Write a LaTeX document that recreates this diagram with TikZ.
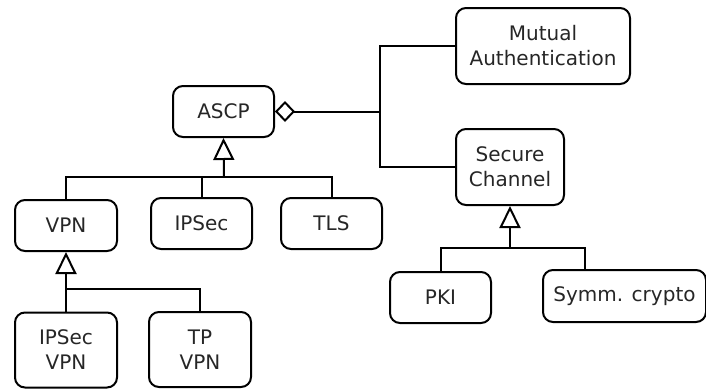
\documentclass[tikz,border=0pt]{standalone}
\usepackage{fontspec}
\setmainfont{DejaVu Sans}
\usetikzlibrary{arrows.meta}
\begin{document}
\begin{tikzpicture}[x=1pt,y=-1pt,
  box/.style={draw, line width=2pt, rounded corners=10pt, inner sep=0pt, align=center,
    text=black!85, font=\fontsize{20}{25}\selectfont},
  conn/.style={draw, line width=2pt},
  gen/.style={conn, -{Triangle[open, length=22pt, width=21pt]}},
  agg/.style={conn, {Diamond[open, length=20pt, width=21pt]}-}]
\useasboundingbox (0,0) rectangle (706,388);
% nodes
\node[box, minimum width=101pt, minimum height=51pt] (ascp) at (223.5,111.5) {ASCP};
\node[box, minimum width=174pt, minimum height=76pt] (mutual) at (543,46) {Mutual\\Authentication};
\node[box, minimum width=108pt, minimum height=76pt] (secure) at (510,167) {Secure\\Channel};
\node[box, minimum width=102pt, minimum height=51pt] (vpn) at (66,225.5) {VPN};
\node[box, minimum width=101pt, minimum height=51pt] (ipsec) at (201.5,223.5) {IPSec};
\node[box, minimum width=101pt, minimum height=51pt] (tls) at (331.5,223.5) {TLS};
\node[box, minimum width=102pt, minimum height=75pt] (ipsecvpn) at (66,350) {IPSec\\VPN};
\node[box, minimum width=102pt, minimum height=75pt] (tpvpn) at (200,349.5) {TP\\VPN};
\node[box, minimum width=101pt, minimum height=51pt] (pki) at (440.5,297.5) {PKI};
\node[box, minimum width=163pt, minimum height=52pt] (symm) at (624.5,296) {Symm. crypto};
% junctions
\coordinate (j1) at (380,112);
\coordinate (bus1) at (224,177);
\coordinate (bus2) at (66,289);
\coordinate (bus3) at (510,248);
% aggregation
\draw[agg] (ascp.east) -- (ascp.east -| j1);
\draw[conn] (mutual.west) -| (j1) |- (secure.west);
% generalization ASCP
\draw[gen] (bus1) -- (ascp.south);
\draw[conn] (vpn.north) |- (bus1) -| (tls.north);
\draw[conn] (ipsec.north) -- (ipsec.north |- bus1);
% generalization VPN
\draw[gen] (ipsecvpn.north) -- (vpn.south);
\draw[conn] (bus2) -| (tpvpn.north);
% generalization Secure Channel
\draw[gen] (bus3) -- (secure.south);
\draw[conn] (pki.north) |- (bus3) -| ([xshift=43pt]symm.north west);
\end{tikzpicture}
\end{document}
